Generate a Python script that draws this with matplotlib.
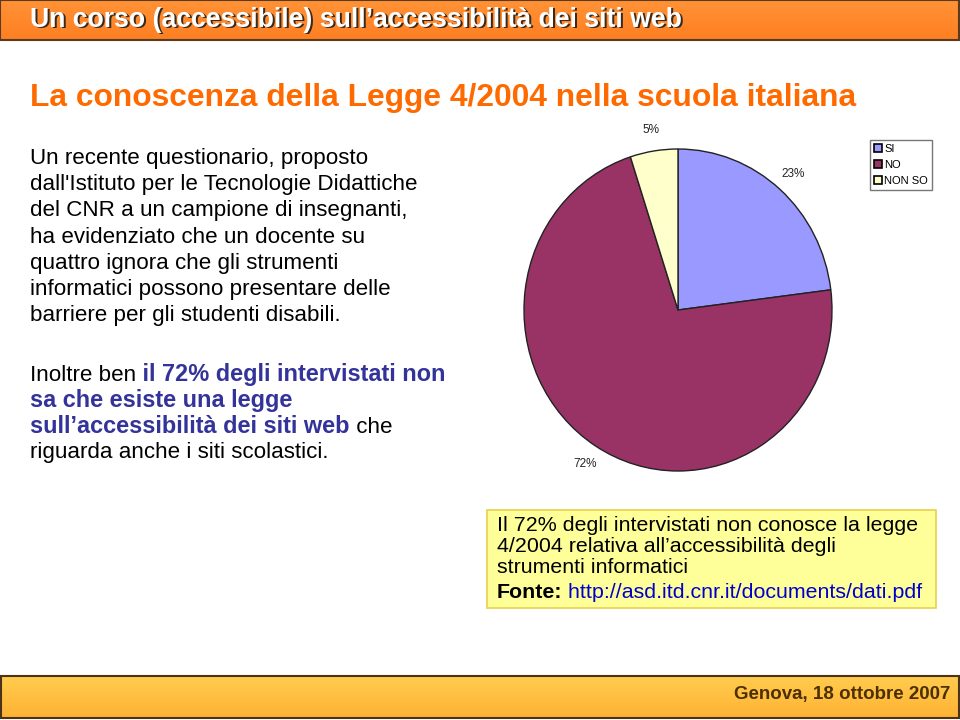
import numpy as np
import matplotlib.pyplot as plt
from matplotlib.patches import Rectangle, Patch

# dati del grafico a torta
categorie = ['SI', 'NO', 'NON SO']
percentuali = [23, 72, 5]
colori = ['#9999FF', '#993366', '#FFFFCC']

plt.rcParams['font.family'] = ['Liberation Sans', 'DejaVu Sans']
BLU = '#333399'

fig = plt.figure(figsize=(9.6, 7.2), dpi=100)
fig.patch.set_facecolor('white')

# asse di sfondo in pixel
bg = fig.add_axes([0, 0, 1, 1])
bg.axis('off')

# barra del titolo (arancione)
grad = np.linspace(0, 1, 50).reshape(-1, 1)
cm_top = plt.matplotlib.colors.LinearSegmentedColormap.from_list('t', ['#FF9236', '#FF7F22'])
bg.imshow(grad, extent=(0, 960, 40, 0), cmap=cm_top, aspect='auto', zorder=1)
bg.add_patch(Rectangle((0, 0), 959, 40, fill=False, edgecolor='#5A3A1E', linewidth=1.5, zorder=2))

# barra in basso (giallo)
cm_bot = plt.matplotlib.colors.LinearSegmentedColormap.from_list('b', ['#FFCC4E', '#FFB234'])
bg.imshow(grad, extent=(0, 960, 718, 676), cmap=cm_bot, aspect='auto', zorder=1)
bg.add_patch(Rectangle((0.5, 676), 958.5, 42, fill=False, edgecolor='#4A3318', linewidth=1.5, zorder=2))

bg.set_xlim(0, 960)
bg.set_ylim(720, 0)

# titolo con ombra
titolo = 'Un corso (accessibile) sull\u2019accessibilità dei siti web'
bg.text(31.5, 21.5, titolo, fontsize=19.2, fontweight='bold',
        color='#3A2A1A', va='center', zorder=3)
bg.text(30, 20, titolo, fontsize=19.2, fontweight='bold',
        color='white', va='center', zorder=4)

bg.text(950, 695, 'Genova, 18 ottobre 2007', fontsize=13.5, fontweight='bold',
        color='#4D3000', ha='right', va='center', zorder=3)

bg.text(30, 106, 'La conoscenza della Legge 4/2004 nella scuola italiana',
        fontsize=22.9, fontweight='bold', color='#FF6A00', va='baseline')

fig.canvas.draw()
renderer = fig.canvas.get_renderer()


def riga(x, y, pezzi, size, size_bold=None):
    for testo, colore, peso in pezzi:
        s = size_bold if (peso == 'bold' and size_bold) else size
        t = bg.text(x, y, testo, color=colore, fontweight=peso, fontsize=s, va='baseline', ha='left', zorder=5)
        x += t.get_window_extent(renderer).width


paragrafo1 = [
    'Un recente questionario, proposto',
    "dall'Istituto per le Tecnologie Didattiche",
    'del CNR a un campione di insegnanti,',
    'ha evidenziato che un docente su',
    'quattro ignora che gli strumenti',
    'informatici possono presentare delle',
    'barriere per gli studenti disabili.',
]
for i, r in enumerate(paragrafo1):
    riga(30, 164 + i * 26.2, [(r, 'black', 'normal')], 16.1)

paragrafo2 = [
    [('Inoltre ben', 'black', 'normal'), (' il 72% degli intervistati non', BLU, 'bold')],
    [('sa che esiste una legge', BLU, 'bold')],
    [('sull\u2019accessibilità dei siti web', BLU, 'bold'), (' che', 'black', 'normal')],
    [('riguarda anche i siti scolastici.', 'black', 'normal')],
]
for i, r in enumerate(paragrafo2):
    riga(30, 381 + i * 25.8, r, 16.1, 16.9)

# riquadro giallo
bg.add_patch(Rectangle((487, 510), 449, 98, facecolor='#FFFF99', edgecolor='#E6D24A', linewidth=1.2, zorder=3))
box = [
    [('Il 72% degli intervistati non conosce la legge', 'black', 'normal')],
    [('4/2004 relativa all\u2019accessibilità degli', 'black', 'normal')],
    [('strumenti informatici', 'black', 'normal')],
    [('Fonte:', 'black', 'bold'), (' http://asd.itd.cnr.it/documents/dati.pdf', '#0000CC', 'normal')],
]
ys = [531, 552, 573, 598]
for y, r in zip(ys, box):
    riga(497, y, r, 15.4)

# grafico a torta
cx, cy, rx, ry = 678, 310, 154, 161
ax = fig.add_axes([(cx - rx) / 960, 1 - (cy + ry) / 720, 2 * rx / 960, 2 * ry / 720])
wedges, testi, pct = ax.pie(percentuali, colors=colori, startangle=90, counterclock=False,
                            autopct='%d%%', pctdistance=1.13,
                            wedgeprops=dict(edgecolor='#222222', linewidth=1.0),
                            textprops=dict(fontsize=8.5, color='#222222'))
ax.set_aspect('auto')
ax.set_xlim(-1, 1)
ax.set_ylim(-1, 1)
ax.axis('off')

maniglie = [Patch(facecolor=c, edgecolor='black', linewidth=1.2) for c in colori]
leg = fig.legend(maniglie, categorie, loc='upper left',
                 bbox_to_anchor=(870 / 960, 1 - 140 / 720), bbox_transform=fig.transFigure,
                 fontsize=8, frameon=True, fancybox=False, edgecolor='#555555',
                 handlelength=0.7, handleheight=0.7, handletextpad=0.25,
                 labelspacing=0.55, borderpad=0.35, borderaxespad=0)
leg.get_frame().set_linewidth(1.0)

fig.savefig('out.png', dpi=100)
